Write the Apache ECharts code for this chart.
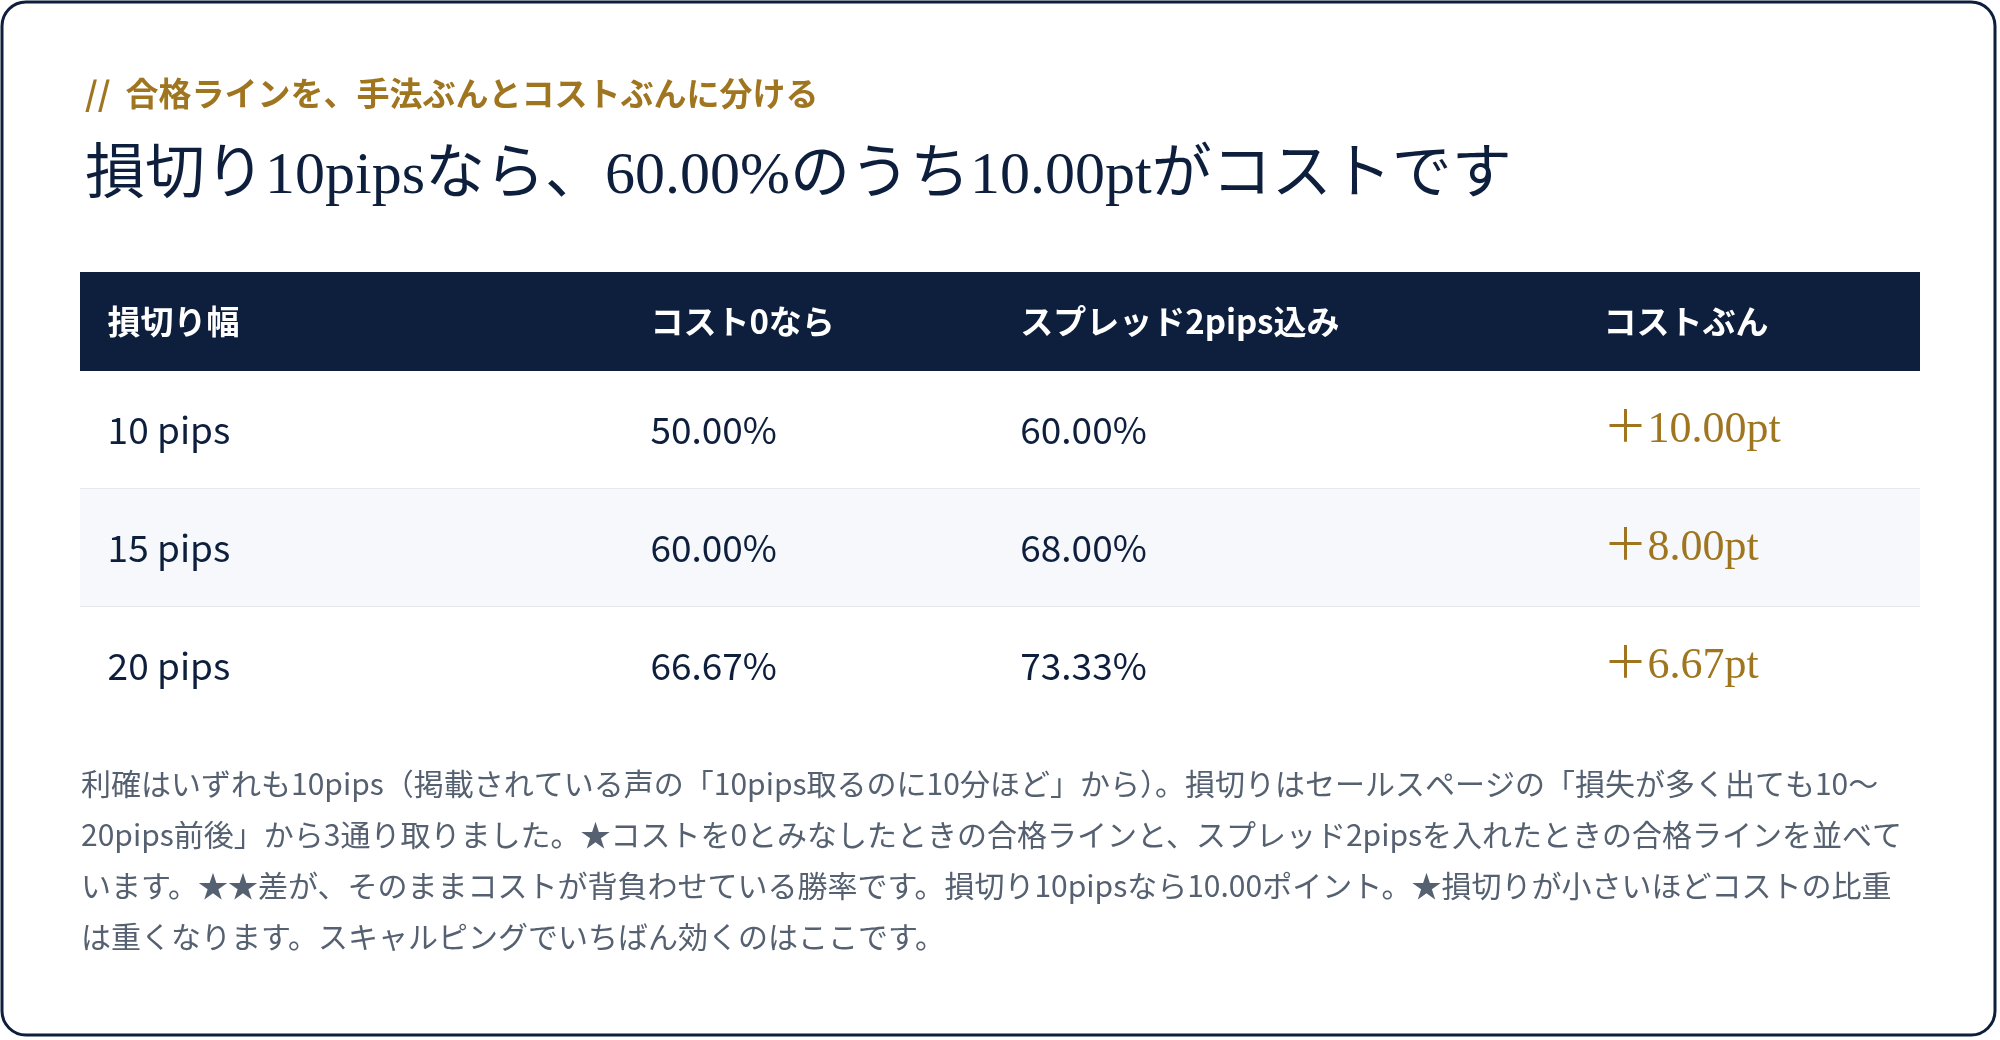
<!DOCTYPE html>
<html>
<head>
<meta charset="utf-8">
<script src="https://cdn.jsdelivr.net/npm/echarts@6/dist/echarts.min.js"></script>
<style>
html, body { margin: 0; padding: 0; background: #fff; }
#main { width: 2000px; height: 1040px; }
</style>
</head>
<body>
<div id="main"></div>
<script>
var headers = ['損切り幅', 'コスト0なら', 'スプレッド2pips込み', 'コストぶん'];
var stopLoss = ['10 pips', '15 pips', '20 pips'];
var costZero = ['50.00%', '60.00%', '66.67%'];
var withSpread = ['60.00%', '68.00%', '73.33%'];
var costPart = ['＋10.00pt', '＋8.00pt', '＋6.67pt'];
var noteLines = [
    '利確はいずれも10pips（掲載されている声の「10pips取るのに10分ほど」から）。損切りはセールスページの「損失が多く出ても10〜',
    '20pips前後」から3通り取りました。★コストを0とみなしたときの合格ラインと、スプレッド2pipsを入れたときの合格ラインを並べて',
    'います。★★差が、そのままコストが背負わせている勝率です。損切り10pipsなら10.00ポイント。★損切りが小さいほどコストの比重',
    'は重くなります。スキャルピングでいちばん効くのはここです。'
];

// column left edges, in percent of table width
var colPos = [1.5, 31.0, 51.1, 82.8];

var sans = '"Noto Sans CJK JP", "Noto Sans", sans-serif';
var serif = '"Liberation Serif", "DejaVu Serif", "Noto Sans CJK JP", serif';

var columns = [stopLoss, costZero, withSpread, costPart];

function renderHeader(params, api) {
    var p0 = api.coord([0, 0]);
    var p1 = api.coord([100, 0]);
    var band = api.size([0, 1])[1];
    var kids = [{
        type: 'rect',
        shape: { x: p0[0], y: p0[1] - band / 2, width: p1[0] - p0[0], height: band },
        style: { fill: '#0d1f3c' }
    }];
    headers.forEach(function (h, c) {
        var p = api.coord([colPos[c], 0]);
        kids.push({
            type: 'text',
            x: p[0], y: p[1],
            style: { text: h, fill: '#fff', font: 'bold 33px ' + sans, verticalAlign: 'middle', align: 'left' }
        });
    });
    return { type: 'group', children: kids };
}

function renderRow(params, api) {
    var r = params.dataIndex;
    var p0 = api.coord([0, r]);
    var p1 = api.coord([100, r]);
    var band = api.size([0, 1])[1];
    var top = p0[1] - band / 2;
    var kids = [{
        type: 'rect',
        shape: { x: p0[0], y: top, width: p1[0] - p0[0], height: band },
        style: { fill: r % 2 === 1 ? '#f6f8fb' : '#fff' }
    }];
    if (r < stopLoss.length - 1) {
        kids.push({
            type: 'line',
            shape: { x1: p0[0], y1: top + band, x2: p1[0], y2: top + band },
            style: { stroke: '#dde1e6', lineWidth: 1.5 }
        });
    }
    for (var c = 0; c < 4; c++) {
        var p = api.coord([colPos[c], r]);
        var last = c === 3;
        kids.push({
            type: 'text',
            x: p[0], y: p[1],
            style: {
                text: columns[c][r],
                fill: last ? '#a0751f' : '#0d1f3c',
                font: last ? '44px ' + serif : '37px ' + sans,
                verticalAlign: 'middle', align: 'left'
            }
        });
    }
    return { type: 'group', children: kids };
}

var titles = [{
    text: '//  合格ラインを、手法ぶんとコストぶんに分ける',
    left: 80, top: 72,
    textStyle: { color: '#a0751f', fontSize: 33, fontWeight: 'bold', fontFamily: sans }
}, {
    text: '損切り10pipsなら、60.00%のうち10.00ptがコストです',
    left: 80, top: 142,
    textStyle: { color: '#0d1f3c', fontSize: 60, fontWeight: 'normal', fontFamily: serif }
}];
noteLines.forEach(function (line, i) {
    titles.push({
        text: line,
        left: 76, top: 764 + i * 51,
        textStyle: { color: '#556070', fontSize: 30, fontWeight: 'normal', fontFamily: sans }
    });
});

var option = {
    animation: false,
    title: titles,
    graphic: [{
        type: 'rect',
        shape: { x: 2, y: 2, width: 1993, height: 1033, r: 24 },
        style: { fill: 'none', stroke: '#0d1f3c', lineWidth: 3 }
    }],
    grid: [
        { left: 80, right: 80, top: 272, height: 99 },
        { left: 80, right: 80, top: 371, height: 354 }
    ],
    xAxis: [
        { gridIndex: 0, type: 'value', min: 0, max: 100, show: false },
        { gridIndex: 1, type: 'value', min: 0, max: 100, show: false }
    ],
    yAxis: [
        { gridIndex: 0, type: 'category', data: ['h'], show: false },
        { gridIndex: 1, type: 'category', data: stopLoss, inverse: true, show: false }
    ],
    series: [{
        type: 'custom', xAxisIndex: 0, yAxisIndex: 0,
        renderItem: renderHeader, data: [[0]]
    }, {
        type: 'custom', xAxisIndex: 1, yAxisIndex: 1,
        renderItem: renderRow,
        data: stopLoss.map(function (s, i) { return [0, i]; })
    }]
};

var myChart = echarts.init(document.getElementById('main'));
myChart.setOption(option);
</script>
</body>
</html>
